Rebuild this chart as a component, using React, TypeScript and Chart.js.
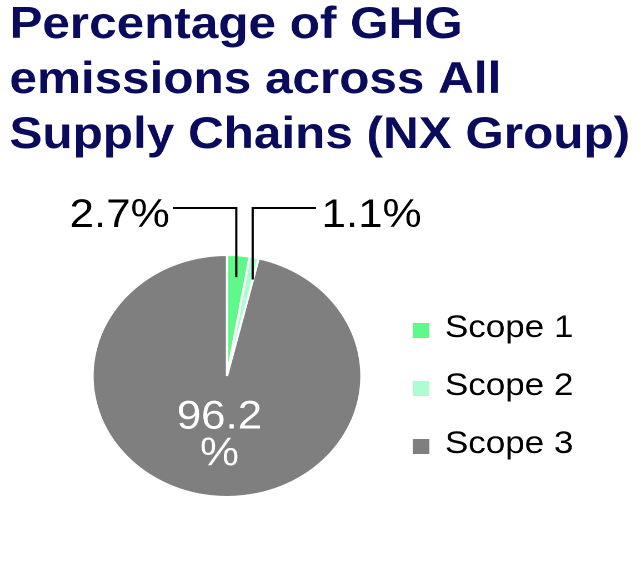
import { useEffect, useRef } from "react";
import { Chart, registerables } from "chart.js";

Chart.register(...registerables);

// ---- data ----
const titleLines = ["Percentage of GHG", "emissions across All", "Supply Chains (NX Group)"];
const categories = ["Scope 1", "Scope 2", "Scope 3"];
const shares = [2.7, 1.1, 96.2];
const sliceColors = ["#5ef98a", "#aefdd0", "#7f7f7f"];

// ---- style ----
const TITLE_COLOR = "#0b0b5e";
const FONT = "'Liberation Sans', Arial, Helvetica, sans-serif";
const BASE_W = 577; // drawing width; stretched horizontally to 641 like the reference
const BASE_H = 577;

const overlayPlugin = {
  id: "overlay",
  afterDatasetsDraw(chart: any) {
    const ctx = chart.ctx as CanvasRenderingContext2D;
    const meta = chart.getDatasetMeta(0);
    ctx.save();

    // title
    ctx.fillStyle = TITLE_COLOR;
    ctx.font = `bold 44.5px ${FONT}`;
    ctx.textAlign = "left";
    ctx.textBaseline = "alphabetic";
    titleLines.forEach((t, i) => ctx.fillText(t, 8.5, 38 + i * 55));

    // legend
    const labels: string[] = chart.data.labels;
    const colors: string[] = chart.data.datasets[0].backgroundColor;
    ctx.font = `31.5px ${FONT}`;
    labels.forEach((lab, i) => {
      const rowBase = 337 + i * 58;
      ctx.fillStyle = colors[i];
      ctx.fillRect(371.5, rowBase - 14, 15, 15);
      ctx.fillStyle = "#000000";
      ctx.fillText(lab, 400.5, rowBase);
    });

    // data labels
    const values: number[] = chart.data.datasets[0].data;
    meta.data.forEach((arc: any, i: number) => {
      const p = arc.getProps(["x", "y", "startAngle", "endAngle", "outerRadius"], true);
      const mid = (p.startAngle + p.endAngle) / 2;
      const v = values[i];
      if (v > 50) {
        const r = p.outerRadius * 0.47;
        const lx = p.x + Math.cos(mid) * r;
        const ly = p.y + Math.sin(mid) * r;
        ctx.fillStyle = "#ffffff";
        ctx.font = `39.5px ${FONT}`;
        ctx.textAlign = "center";
        ctx.fillText(v.toFixed(1), lx, ly - 4);
        ctx.fillText("%", lx, ly + 33);
      } else {
        const leftSide = i === 0;
        const ang = leftSide ? mid : p.startAngle + 0.95 * (p.endAngle - p.startAngle);
        const r = p.outerRadius * 0.82;
        const px = p.x + Math.cos(ang) * r;
        const py = p.y + Math.sin(ang) * r;
        const ey = p.y - p.outerRadius - 47;
        const hx = leftSide ? px - 57 : px + 57;
        ctx.strokeStyle = "#000000";
        ctx.lineWidth = 2;
        ctx.beginPath();
        ctx.moveTo(px, py);
        ctx.lineTo(px, ey);
        ctx.lineTo(hx, ey);
        ctx.stroke();
        ctx.fillStyle = "#000000";
        ctx.font = `39.5px ${FONT}`;
        ctx.textAlign = leftSide ? "right" : "left";
        ctx.fillText(v.toFixed(1) + "%", leftSide ? hx - 3 : hx + 5, ey + 19);
      }
    });

    ctx.restore();
  },
};

export default function App() {
  const ref = useRef<HTMLCanvasElement>(null);

  useEffect(() => {
    if (!ref.current) return;
    const chart = new Chart(ref.current, {
      type: "pie",
      data: {
        labels: categories,
        datasets: [
          {
            data: shares,
            backgroundColor: sliceColors,
            borderColor: "#ffffff",
            borderWidth: 2,
          },
        ],
      },
      options: {
        responsive: false,
        animation: false,
        devicePixelRatio: 2,
        layout: {
          padding: { left: 82.3, right: 250.7, top: 254, bottom: 79 },
        },
        plugins: {
          legend: { display: false },
          title: { display: false },
          tooltip: { enabled: false },
        },
      },
      plugins: [overlayPlugin],
    });
    return () => chart.destroy();
  }, []);

  return (
    <div style={{ position: "absolute", left: 0, top: 0, width: 641, height: 577, background: "#ffffff" }}>
      <canvas
        ref={ref}
        width={BASE_W}
        height={BASE_H}
        style={{ width: "641px", height: "577px", display: "block" }}
      />
    </div>
  );
}
